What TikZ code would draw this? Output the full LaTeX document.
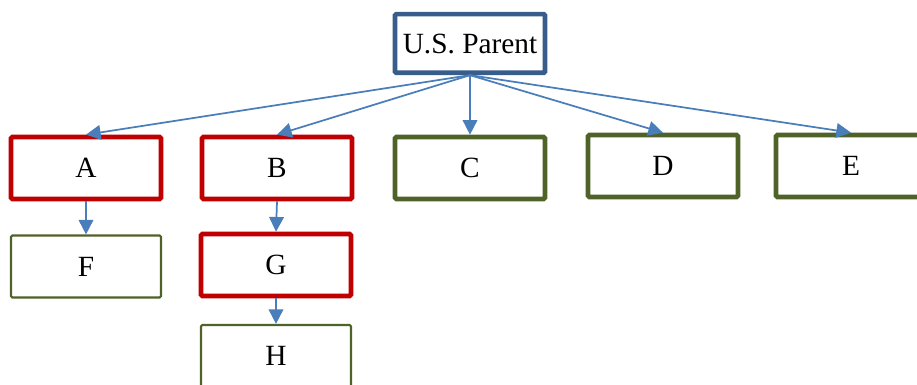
\documentclass[tikz,border=0pt]{standalone}
\usepackage{fontspec}
\setmainfont{Liberation Serif}
\usetikzlibrary{arrows.meta}

\definecolor{parentblue}{HTML}{385D8A}
\definecolor{boxred}{HTML}{C00000}
\definecolor{boxgreen}{HTML}{4F6228}
\definecolor{arrowblue}{HTML}{4A7EBB}

\begin{document}
\begin{tikzpicture}[x=0.75pt, y=-0.75pt,
   box/.style={draw, fill=white, rectangle, rounded corners=1pt, minimum width=112.5pt, minimum height=46.5pt, inner sep=0pt, font=\fontsize{22}{26}\selectfont},
   redbox/.style={box, draw=boxred, line width=3.5pt},
   greenbox/.style={box, draw=boxgreen, line width=3.5pt},
   thinbox/.style={box, draw=boxgreen, line width=1.6pt},
   link/.style={draw=arrowblue, line width=1.3pt, -{Triangle[length=11pt, width=11pt]}}]
   \useasboundingbox (0,0) rectangle (917,385);

   \node[box, draw=parentblue, line width=3.5pt, minimum height=44pt] (parent) at (470,43.5) {U.S. Parent};

   \node[redbox] (a) at (86,168) {A};
   \node[redbox] (b) at (277,168) {B};
   \node[greenbox] (c) at (470,168) {C};
   \node[greenbox] (d) at (663,166) {D};
   \node[greenbox] (e) at (851,166) {E};

   \node[thinbox] (f) at (86,266.5) {F};
   \node[redbox] (g) at (276,265) {G};
   \node[thinbox] (h) at (276,356) {H};

   \foreach \child in {a,b,c,d,e}
      \draw[link] (parent.south) -- (\child.north);

   \draw[link] (a.south) -- (f.north);
   \draw[link] (b.south) -- (g.north);
   \draw[link] (g.south) -- (h.north);
\end{tikzpicture}
\end{document}
